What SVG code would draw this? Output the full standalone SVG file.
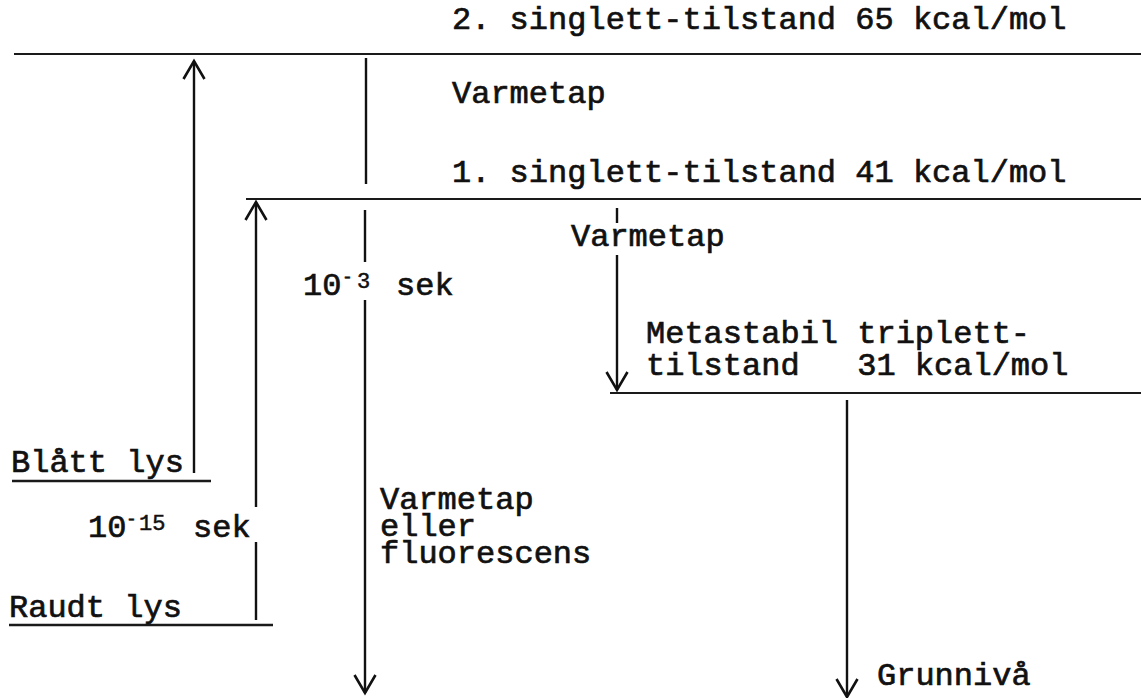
<svg xmlns="http://www.w3.org/2000/svg" width="1141" height="698" viewBox="0 0 1141 698">
  <style>
    .t { font-family: "Liberation Mono", "Courier New", monospace; font-size: 32px; fill: #111; stroke: #111; stroke-width: 0.7; }
    .sup { font-size: 22px; stroke-width: 0.5; }
    .dash { font-size: 18px; stroke-width: 0.5; }
    .lvl { stroke: #1a1a1a; stroke-width: 2; fill: none; }
    .ul { stroke: #1a1a1a; stroke-width: 2.6; fill: none; }
    .ar { stroke: #111; stroke-width: 2.4; fill: none; }
  </style>
  <defs>
    <!-- open chevron arrowhead, drawn along the line direction -->
    <marker id="head" markerUnits="userSpaceOnUse" orient="auto" overflow="visible" refX="0" refY="0" markerWidth="1" markerHeight="1">
      <path d="M-18,-10.5 L0,0 L-18,10.5" fill="none" stroke="#111" stroke-width="2.6"/>
    </marker>
  </defs>
  <rect width="1141" height="698" fill="#fff"/>

  <!-- energy levels -->
  <g id="level-singlet2">
    <line class="lvl" x1="14" y1="54" x2="1141" y2="54"/>
    <text class="t" x="452" y="29">2. singlett-tilstand 65 kcal/mol</text>
  </g>
  <g id="level-singlet1">
    <line class="lvl" x1="246" y1="199" x2="1141" y2="199"/>
    <text class="t" x="452" y="182">1. singlett-tilstand 41 kcal/mol</text>
  </g>
  <g id="level-triplet">
    <line class="lvl" x1="610" y1="393" x2="1141" y2="393"/>
    <text class="t" x="646" y="343">Metastabil triplett-<tspan x="646" y="375" xml:space="preserve">tilstand   31 kcal/mol</tspan></text>
  </g>
  <g id="level-ground">
    <text class="t" x="877" y="685">Grunnivå</text>
  </g>
  <g id="blue-light">
    <line class="ul" x1="12" y1="481" x2="211" y2="481"/>
    <text class="t" x="11" y="472">Blått lys</text>
  </g>
  <g id="red-light">
    <line class="ul" x1="9" y1="625" x2="273" y2="625"/>
    <text class="t" x="9" y="617">Raudt lys</text>
  </g>

  <!-- transitions -->
  <g id="connectors">
    <line class="ar" x1="194" y1="473" x2="194" y2="61" marker-end="url(#head)"/>
    <line class="ar" x1="256" y1="620" x2="256" y2="542"/>
    <line class="ar" x1="256" y1="507" x2="256" y2="202" marker-end="url(#head)"/>
    <line class="ar" x1="366" y1="58" x2="366" y2="184"/>
    <line class="ar" x1="365" y1="210" x2="365" y2="262"/>
    <line class="ar" x1="365" y1="300" x2="365" y2="693" marker-end="url(#head)"/>
    <line class="ar" x1="617" y1="208" x2="617" y2="223"/>
    <line class="ar" x1="617" y1="255" x2="617" y2="390" marker-end="url(#head)"/>
    <line class="ar" x1="847" y1="400" x2="847" y2="697" marker-end="url(#head)"/>
  </g>

  <!-- transition labels -->
  <g id="transition-labels">
    <text class="t" x="452" y="103">Varmetap</text>
    <text class="t" x="571" y="246">Varmetap</text>
    <text class="t" x="303" y="295">10<tspan class="dash" x="342" y="283">-</tspan><tspan class="sup" x="357" y="288">3</tspan><tspan x="396" y="295">sek</tspan></text>
    <text class="t" x="88" y="537">10<tspan class="dash" x="126" y="525">-</tspan><tspan class="sup" x="139" y="530">15</tspan><tspan x="193" y="537">sek</tspan></text>
    <text class="t" x="380" y="509">Varmetap<tspan x="380" y="536">eller</tspan><tspan x="380" y="563">fluorescens</tspan></text>
  </g>
</svg>
